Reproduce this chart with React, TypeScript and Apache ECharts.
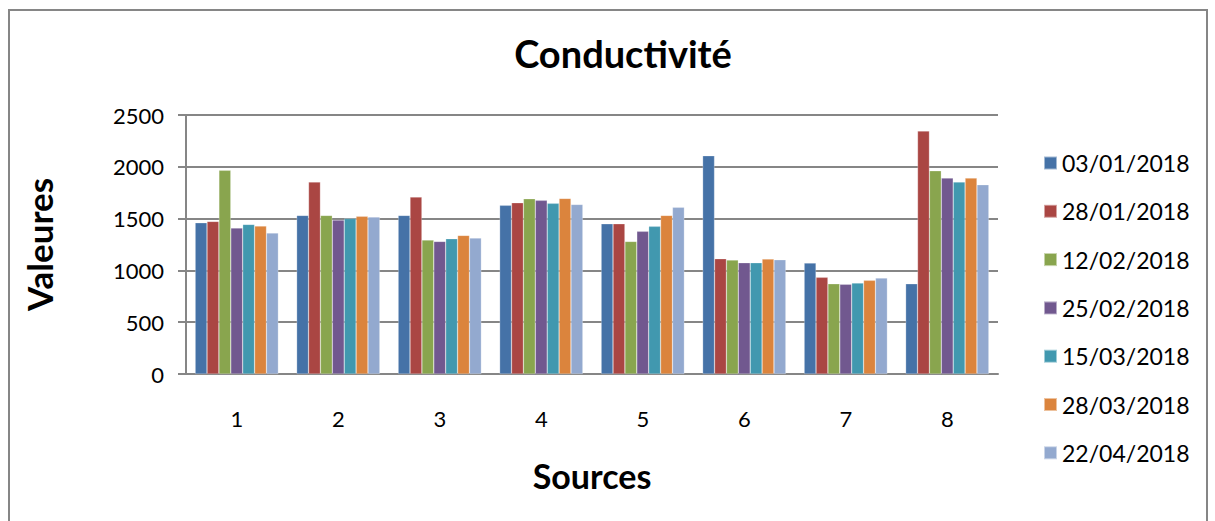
import React, { useEffect, useRef } from "react";
import * as echarts from "echarts";

const categories = ["1", "2", "3", "4", "5", "6", "7", "8"];
const seriesNames = [
  "03/01/2018",
  "28/01/2018",
  "12/02/2018",
  "25/02/2018",
  "15/03/2018",
  "28/03/2018",
  "22/04/2018",
];
const s1 = [1460, 1531, 1531, 1628, 1450, 2107, 1071, 871];
const s2 = [1473, 1853, 1708, 1653, 1450, 1113, 933, 2345];
const s3 = [1966, 1531, 1293, 1692, 1280, 1100, 871, 1962];
const s4 = [1409, 1486, 1280, 1676, 1377, 1074, 866, 1891];
const s5 = [1444, 1502, 1306, 1647, 1425, 1074, 878, 1853];
const s6 = [1428, 1522, 1338, 1695, 1531, 1110, 904, 1891];
const s7 = [1361, 1515, 1312, 1637, 1609, 1103, 926, 1827];
const allSeries = [s1, s2, s3, s4, s5, s6, s7];
const colors = ["#4572A7", "#AA4643", "#89A54E", "#71588F", "#4198AF", "#DB843D", "#93A9CF"];

const FONT = "Lato, 'Open Sans', sans-serif";

export default function App() {
  const ref = useRef<HTMLDivElement>(null);
  useEffect(() => {
    if (!ref.current) return;
    const chart = echarts.init(ref.current, undefined, { renderer: "svg" });
    chart.setOption({
      animation: false,
      backgroundColor: "#ffffff",
      color: colors,
      title: {
        text: "Conductivité",
        left: 618,
        top: 29,
        textAlign: "center",
        textStyle: { fontFamily: FONT, fontSize: 38, fontWeight: "bold", color: "#000" },
      },
      graphic: [
        {
          type: "rect",
          shape: { x: 9, y: 10, width: 1198, height: 530 },
          style: { fill: "none", stroke: "#868686", lineWidth: 2 },
          silent: true,
        },
      ],
      legend: {
        orient: "vertical",
        left: 1038,
        top: 146,
        itemWidth: 13,
        itemHeight: 13,
        itemGap: 24.3,
        icon: "rect",
        textStyle: { fontFamily: FONT, fontSize: 23, lineHeight: 24, color: "#000", padding: [0, 0, 0, 0] },
        data: seriesNames,
      },
      grid: { left: 186, right: 217, top: 115, height: 259, containLabel: false },
      xAxis: {
        type: "category",
        data: categories,
        name: "Sources",
        nameLocation: "middle",
        nameGap: 84,
        nameTextStyle: { fontFamily: FONT, fontSize: 34, fontWeight: "bold", color: "#000" },
        axisLine: { lineStyle: { color: "#868686", width: 2 } },
        axisTick: { show: false },
        axisLabel: { fontFamily: FONT, fontSize: 22, color: "#000", margin: 33 },
      },
      yAxis: {
        type: "value",
        min: 0,
        max: 2500,
        interval: 500,
        name: "Valeures",
        nameLocation: "middle",
        nameGap: 130,
        nameTextStyle: { fontFamily: FONT, fontSize: 35, fontWeight: "bold", color: "#000" },
        axisLine: { show: true, lineStyle: { color: "#868686", width: 2 } },
        axisTick: { show: true, length: 8, lineStyle: { color: "#868686", width: 2 } },
        splitLine: { lineStyle: { color: "#868686", width: 2 } },
        axisLabel: {
          fontFamily: FONT,
          fontSize: 22,
          color: "#000",
          margin: 22,
          formatter: (v: number) => String(v),
        },
      },
      series: allSeries.map((d, i) => ({
        name: seriesNames[i],
        type: "bar",
        data: d,
        barGap: "0%",
        barCategoryGap: "18%",
        itemStyle: { color: colors[i], borderColor: "rgba(255,255,255,0.5)", borderWidth: 0.5 },
      })),
    });
    return () => chart.dispose();
  }, []);
  return (
    <div
      ref={ref}
      style={{ position: "fixed", left: 0, top: 0, width: 1215, height: 521 }}
    />
  );
}
